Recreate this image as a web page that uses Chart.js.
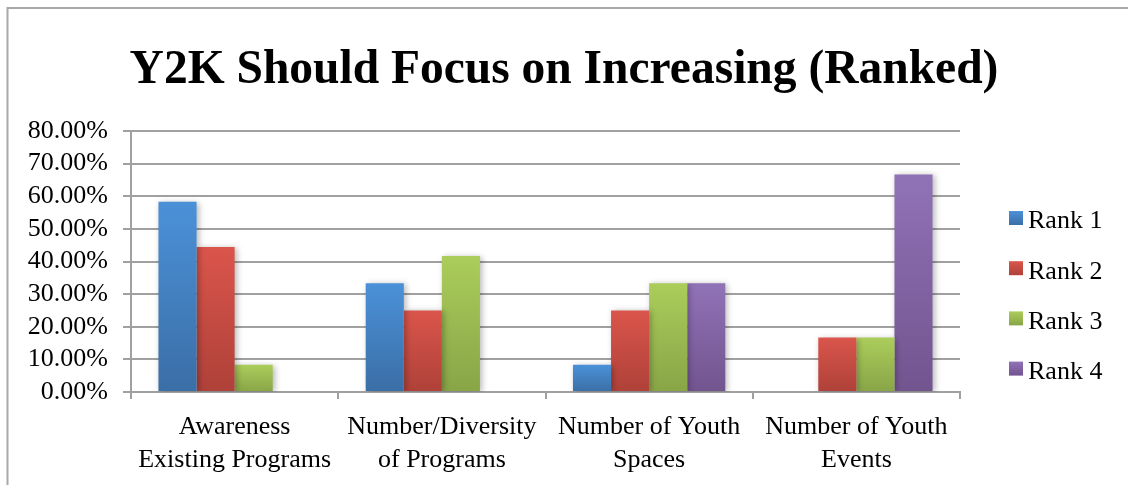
<!DOCTYPE html>
<html>
<head>
<meta charset="utf-8">
<script src="https://cdn.jsdelivr.net/npm/chart.js@4.4.1/dist/chart.umd.min.js"></script>
<style>
  html, body { margin: 0; padding: 0; background: #fff; overflow: hidden; }
  #wrap { position: relative; width: 1128px; height: 485px; }
</style>
</head>
<body>
<div id="wrap"><canvas id="chart"></canvas></div>
<script>
const categories = [
    ["Awareness", "Existing Programs"],
    ["Number/Diversity", "of Programs"],
    ["Number of Youth", "Spaces"],
    ["Number of Youth", "Events"]
];
const seriesNames = ["Rank 1", "Rank 2", "Rank 3", "Rank 4"];
const rank1 = [58.33, 33.33, 8.33, 0];
const rank2 = [44.44, 25.00, 25.00, 16.67];
const rank3 = [8.33, 41.67, 33.33, 16.67];
const rank4 = [0, 0, 33.33, 66.67];
const yTicks = [0, 10, 20, 30, 40, 50, 60, 70, 80];

// light top / dark bottom for each rank
const shades = [
    ["#4b91d8", "#3a6ea6"],
    ["#da554b", "#ae4139"],
    ["#abcd5b", "#88a547"],
    ["#9072b7", "#72548f"]
];

const serif = "'Liberation Serif', 'Times New Roman', serif";
const gridGrey = "#a0a0a0";

function barGradient(ctx, top, bottom, pair) {
    const g = ctx.createLinearGradient(0, top, 0, bottom);
    g.addColorStop(0, pair[0]);
    g.addColorStop(1, pair[1]);
    return g;
}

function barFill(i) {
    return function (context) {
        const chart = context.chart;
        const y = chart.scales.y;
        if (!y || typeof context.raw !== "number") return shades[i][0];
        const top = y.getPixelForValue(context.raw);
        const base = y.getPixelForValue(0);
        if (!isFinite(top) || !isFinite(base) || base - top < 1) return shades[i][0];
        return barGradient(chart.ctx, top, base, shades[i]);
    };
}

// outer frame, bar shadows and the side legend
const decorations = {
    id: "decorations",
    beforeDraw(chart) {
        const ctx = chart.ctx;
        ctx.save();
        ctx.strokeStyle = "#a8a8a8";
        ctx.lineWidth = 2;
        ctx.beginPath();
        ctx.moveTo(7.5, chart.height + 5);
        ctx.lineTo(7.5, 8);
        ctx.lineTo(chart.width + 5, 8);
        ctx.stroke();
        ctx.restore();
    },
    beforeDatasetsDraw(chart) {
        const ctx = chart.ctx;
        ctx.save();
        ctx.shadowColor = "rgba(0,0,0,0.28)";
        ctx.shadowBlur = 6;
        ctx.shadowOffsetX = 2;
        ctx.shadowOffsetY = 1;
    },
    afterDatasetsDraw(chart) {
        chart.ctx.restore();
    },
    afterDraw(chart) {
        const ctx = chart.ctx;
        ctx.save();
        ctx.font = "26px " + serif;
        ctx.textBaseline = "middle";
        ctx.textAlign = "left";
        chart.data.datasets.forEach((ds, i) => {
            const cy = 221.5 + i * 50.2;
            ctx.fillStyle = barGradient(ctx, cy - 10.5, cy + 3.5, shades[i]);
            ctx.fillRect(1009, cy - 10.5, 14, 14);
            ctx.fillStyle = "#000";
            ctx.fillText(ds.label, 1028, cy);
        });
        ctx.restore();
    }
};

const seriesValues = [rank1, rank2, rank3, rank4];

new Chart(document.getElementById("chart"), {
    type: "bar",
    data: {
        labels: categories,
        datasets: seriesValues.map((vals, i) => ({
            label: seriesNames[i],
            data: vals,
            backgroundColor: barFill(i),
            borderWidth: 0,
            categoryPercentage: 0.735,
            barPercentage: 1
        }))
    },
    options: {
        responsive: true,
        maintainAspectRatio: false,
        animation: false,
        layout: { padding: 0 },
        plugins: {
            legend: { display: false },
            tooltip: { enabled: false },
            title: {
                display: true,
                text: "Y2K Should Focus on Increasing (Ranked)",
                color: "#000",
                font: { family: serif, size: 47.5, weight: "bold", lineHeight: 1.2 },
                padding: { top: 42, bottom: 32 }
            }
        },
        scales: {
            x: {
                grid: {
                    display: true,
                    drawOnChartArea: false,
                    drawTicks: true,
                    tickLength: 7,
                    color: gridGrey,
                    lineWidth: 2,
                    offset: true
                },
                border: { display: true, color: gridGrey, width: 2 },
                ticks: {
                    color: "#000",
                    font: { family: serif, size: 26, lineHeight: 1.27 },
                    padding: 12,
                    maxRotation: 0,
                    autoSkip: false
                },
                afterFit(scale) { scale.height = 93; }
            },
            y: {
                min: 0,
                max: 80,
                afterBuildTicks(scale) {
                    scale.ticks = yTicks.map(v => ({ value: v }));
                },
                grid: {
                    color: gridGrey,
                    lineWidth: 2,
                    drawTicks: true,
                    tickLength: 8
                },
                border: { display: true, color: gridGrey, width: 2 },
                ticks: {
                    color: "#000",
                    font: { family: serif, size: 26 },
                    padding: 15,
                    autoSkip: false,
                    callback: v => v.toFixed(2) + "%"
                },
                afterFit(scale) { scale.width = 131; }
            },
            side: {
                position: "right",
                display: true,
                grid: { display: false },
                border: { display: false },
                ticks: { display: false },
                afterFit(scale) { scale.width = 168; }
            }
        }
    },
    plugins: [decorations]
});
</script>
</body>
</html>
